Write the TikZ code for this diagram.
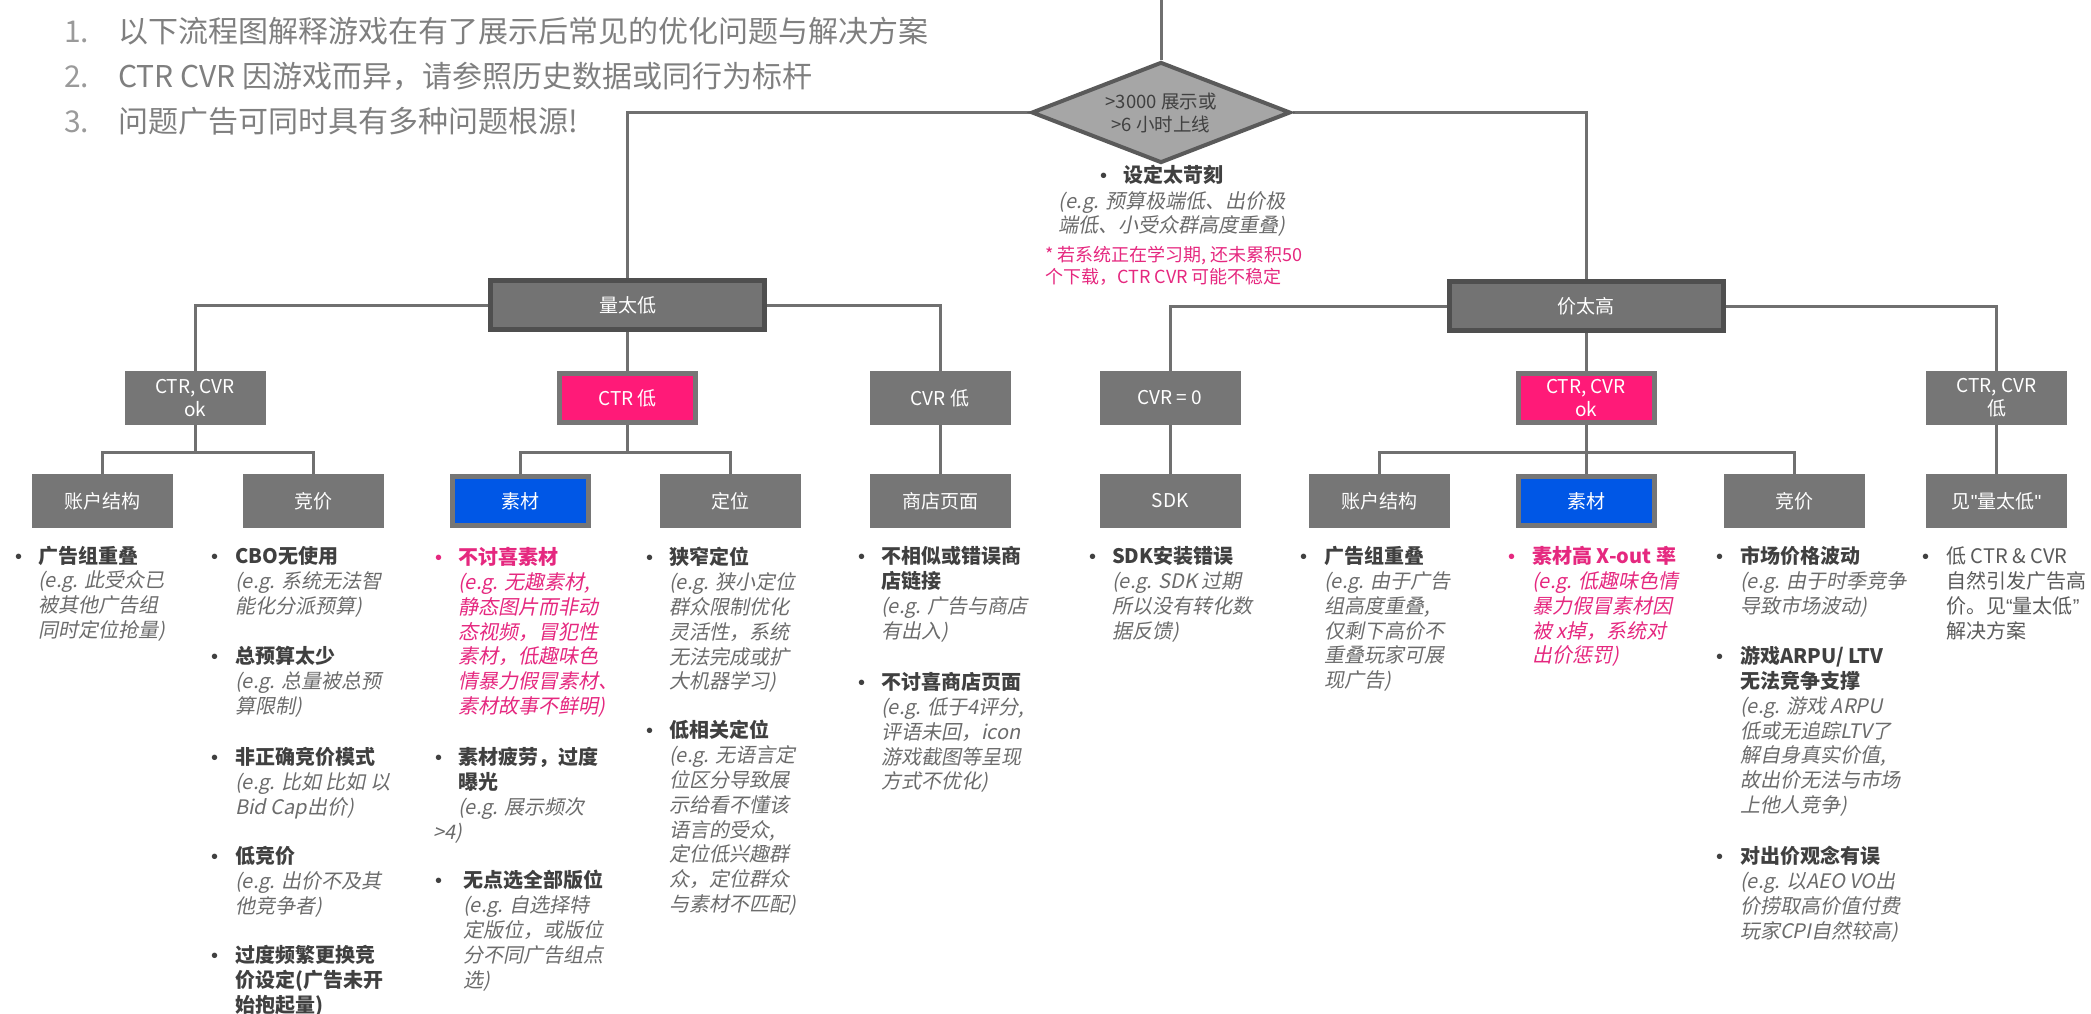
\documentclass[tikz,border=0pt]{standalone}
\usepackage{fontspec}
\setmainfont{Noto Sans CJK SC}
\newfontfamily\itf[FakeSlant=0.2]{Noto Sans CJK SC}
\newfontfamily\latf{Liberation Sans}
\usetikzlibrary{shapes.geometric,backgrounds}
\definecolor{boxg}{HTML}{767676}
\definecolor{topfill}{HTML}{737373}
\definecolor{topedge}{HTML}{4F4F4F}
\definecolor{linec}{HTML}{707070}
\definecolor{pinkbox}{HTML}{FF1A78}
\definecolor{bluebox}{HTML}{0057E6}
\definecolor{diafill}{HTML}{A6A6A6}
\definecolor{diaedge}{HTML}{5A5A5A}
\definecolor{ttlc}{HTML}{404040}
\definecolor{exc}{HTML}{6B6B6B}
\definecolor{pinkc}{HTML}{E5287F}
\definecolor{headc}{HTML}{7F7F7F}
\definecolor{headn}{HTML}{9A9A9A}
\definecolor{jc}{HTML}{5A5A5A}
\newcommand{\ttlB}[1]{{\bfseries\color{ttlc}#1}}
\newcommand{\exT}[1]{{\itf\color{exc}#1}}
\newcommand{\pkB}[1]{{\bfseries\color{pinkc}#1}}
\newcommand{\pkE}[1]{{\itf\color{pinkc}#1}}
\newcommand{\bulI}[1]{\makebox[#1][l]{\latf\color{ttlc}\textbullet}}
\newcommand{\bulJ}[1]{\makebox[#1][l]{\latf\color{pinkc}\textbullet}}
\newcommand{\indT}[1]{\hspace*{#1}}
\begin{document}
\begin{tikzpicture}[x=1pt,y=-1pt,
  conn/.style={draw=linec, line width=3pt},
  topbox/.style={rectangle, fill=topfill, draw=topedge, line width=5pt, minimum width=274pt, minimum height=49pt, inner sep=0pt, text=white, font=\fontsize{19}{23}\selectfont},
  gbox/.style={rectangle, fill=boxg, minimum width=141pt, minimum height=54pt, inner sep=0pt, text=white, align=center, font=\fontsize{19}{23}\selectfont},
  pbox/.style={gbox, fill=pinkbox, draw=boxg, line width=5pt, minimum width=136pt, minimum height=49pt},
  bbox/.style={pbox, fill=bluebox},
  itemnode/.style={anchor=north west, inner sep=0pt, font=\fontsize{20}{24.8}\selectfont},
  headnum/.style={anchor=base west, inner sep=0pt, text=headn, font=\fontsize{30}{36}\selectfont},
  headtxt/.style={anchor=base west, inner sep=0pt, text=headc, font=\fontsize{30}{36}\selectfont}]
\useasboundingbox (0,0) rectangle (2091,1014);

% header
\node[headnum] (h1n) at (64,42.5) {1.};
\node[headtxt] (h1) at (118,42.5) {以下流程图解释游戏在有了展示后常见的优化问题与解决方案};
\node[headnum] (h2n) at (64,87.5) {2.};
\node[headtxt] (h2) at (118,87.5) {CTR CVR 因游戏而异，请参照历史数据或同行为标杆};
\node[headnum] (h3n) at (64,132.5) {3.};
\node[headtxt] (h3) at (118,132.5) {问题广告可同时具有多种问题根源!};

% diamond
\node[diamond, aspect=2.5, fill=diafill, draw=diaedge, line width=4pt, minimum width=259pt, minimum height=101pt, inner sep=0pt, align=center, text=ttlc, font=\fontsize{18.5}{23}\selectfont] (dia) at (1161,112.5) {>3000 展示或\\>6 小时上线};

% center notes
\node[itemnode] (k1) at (1100,165.2) {\begin{tabular}{@{}l@{}}\bulI{23pt}\ttlB{设定太苛刻}\end{tabular}};
\node[anchor=north, inner sep=0pt, align=center, font=\fontsize{20}{24}\selectfont] (k2) at (1172,191) {\exT{(e.g. 预算极端低、出价极}\\\exT{端低、小受众群高度重叠)}};
\node[anchor=north west, inner sep=0pt, align=left, text=pinkc, font=\fontsize{18}{22}\selectfont] (note) at (1045,246) {* 若系统正在学习期, 还未累积50\\个下载，CTR CVR 可能不稳定};

% level 1
\node[topbox] (l1) at (627.5,305) {量太低};
\node[topbox] (r1) at (1586,306) {价太高};

% level 2
\node[gbox] (ok1) at (195,398) {CTR, CVR\\ok};
\node[pbox] (ctr1) at (627.5,398) {CTR 低};
\node[gbox] (cvr1) at (940,398) {CVR 低};
\node[gbox] (cvr0) at (1170,398) {CVR = 0};
\node[pbox] (ok2) at (1586,398) {CTR, CVR\\ok};
\node[gbox] (lo2) at (1996.5,398) {CTR, CVR\\低};

% level 3
\node[gbox] (acc1) at (102,501) {账户结构};
\node[gbox] (bid1) at (313,501) {竞价};
\node[bbox] (mat1) at (520.5,501) {素材};
\node[gbox] (tgt1) at (730,501) {定位};
\node[gbox] (store) at (940,501) {商店页面};
\node[gbox] (sdk) at (1170,501) {SDK};
\node[gbox] (acc2) at (1379.5,501) {账户结构};
\node[bbox] (mat2) at (1586,501) {素材};
\node[gbox] (bid2) at (1794,501) {竞价};
\node[gbox] (see) at (1996.5,501) {见{\latf"}量太低{\latf"}};

% connectors
\begin{scope}[on background layer]
\coordinate (topend) at (1161,0);
\draw[conn] (topend) -- (dia.north);
\draw[conn] (dia.west) -| (l1.north);
\draw[conn] (dia.east) -| (r1.north);
\draw[conn] (l1.west) -| (ok1.north);
\draw[conn] (l1.east) -| (cvr1.north);
\draw[conn] (l1.south) -- (ctr1.north);
\draw[conn] (r1.west) -| (cvr0.north);
\draw[conn] (r1.east) -| (lo2.north);
\draw[conn] (r1.south) -- (ok2.north);
\draw[conn] (ok1.south) -- ++(0,27) -| (acc1.north);
\draw[conn] (ok1.south) -- ++(0,27) -| (bid1.north);
\draw[conn] (ctr1.south) -- ++(0,27) -| (mat1.north);
\draw[conn] (ctr1.south) -- ++(0,27) -| (tgt1.north);
\draw[conn] (cvr1.south) -- (store.north);
\draw[conn] (cvr0.south) -- (sdk.north);
\draw[conn] (ok2.south) -- ++(0,27) -| (acc2.north);
\draw[conn] (ok2.south) -- ++(0,27) -| (bid2.north);
\draw[conn] (ok2.south) -- (mat2.north);
\draw[conn] (lo2.south) -- (see.north);
\end{scope}

% column 1
\node[itemnode] (a1) at (15,545.5) {\begin{tabular}{@{}l@{}}
\bulI{23pt}\ttlB{广告组重叠}\\ \indT{23pt}\exT{(e.g. 此受众已}\\ \indT{23pt}\exT{被其他广告组}\\ \indT{23pt}\exT{同时定位抢量)}\end{tabular}};

% column 2
\node[itemnode] (b1) at (211,546.2) {\begin{tabular}{@{}l@{}}
\bulI{24pt}\ttlB{CBO无使用}\\ \indT{24pt}\exT{(e.g. 系统无法智}\\ \indT{24pt}\exT{能化分派预算)}\end{tabular}};
\node[itemnode] (b2) at (211,646.2) {\begin{tabular}{@{}l@{}}
\bulI{24pt}\ttlB{总预算太少}\\ \indT{24pt}\exT{(e.g. 总量被总预}\\ \indT{24pt}\exT{算限制)}\end{tabular}};
\node[itemnode] (b3) at (211,747) {\begin{tabular}{@{}l@{}}
\bulI{24pt}\ttlB{非正确竞价模式}\\ \indT{24pt}\exT{(e.g. 比如 比如 以}\\ \indT{24pt}\exT{Bid Cap出价)}\end{tabular}};
\node[itemnode] (b4) at (211,846.2) {\begin{tabular}{@{}l@{}}
\bulI{24pt}\ttlB{低竞价}\\ \indT{24pt}\exT{(e.g. 出价不及其}\\ \indT{24pt}\exT{他竞争者)}\end{tabular}};
\node[itemnode] (b5) at (211,945.2) {\begin{tabular}{@{}l@{}}
\bulI{24pt}\ttlB{过度频繁更换竞}\\ \indT{24pt}\ttlB{价设定(广告未开}\\ \indT{24pt}\ttlB{始抱起量)}\end{tabular}};

% column 3
\node[itemnode] (c1) at (435,547.2) {\begin{tabular}{@{}l@{}}
\bulJ{23pt}\pkB{不讨喜素材}\\ \indT{23pt}\pkE{(e.g. 无趣素材,}\\ \indT{23pt}\pkE{静态图片而非动}\\ \indT{23pt}\pkE{态视频，冒犯性}\\ \indT{23pt}\pkE{素材，低趣味色}\\ \indT{23pt}\pkE{情暴力假冒素材、}\\ \indT{23pt}\pkE{素材故事不鲜明)}\end{tabular}};
\node[itemnode] (c2) at (435,747.2) {\begin{tabular}{@{}l@{}}
\bulI{23pt}\ttlB{素材疲劳，过度}\\ \indT{23pt}\ttlB{曝光}\\ \indT{23pt}\exT{(e.g. 展示频次}\\ \indT{-2pt}\exT{>4)}\end{tabular}};
\node[itemnode] (c3) at (435,870.2) {\begin{tabular}{@{}l@{}}
\bulI{28pt}\ttlB{无点选全部版位}\\ \indT{28pt}\exT{(e.g. 自选择特}\\ \indT{28pt}\exT{定版位，或版位}\\ \indT{28pt}\exT{分不同广告组点}\\ \indT{28pt}\exT{选)}\end{tabular}};

% column 4
\node[itemnode] (d1) at (646,547.2) {\begin{tabular}{@{}l@{}}
\bulI{23pt}\ttlB{狭窄定位}\\ \indT{23pt}\exT{(e.g. 狭小定位}\\ \indT{23pt}\exT{群众限制优化}\\ \indT{23pt}\exT{灵活性，系统}\\ \indT{23pt}\exT{无法完成或扩}\\ \indT{23pt}\exT{大机器学习)}\end{tabular}};
\node[itemnode] (d2) at (646,720.2) {\begin{tabular}{@{}l@{}}
\bulI{23pt}\ttlB{低相关定位}\\ \indT{23pt}\exT{(e.g. 无语言定}\\ \indT{23pt}\exT{位区分导致展}\\ \indT{23pt}\exT{示给看不懂该}\\ \indT{23pt}\exT{语言的受众,}\\ \indT{23pt}\exT{定位低兴趣群}\\ \indT{23pt}\exT{众，定位群众}\\ \indT{23pt}\exT{与素材不匹配)}\end{tabular}};

% column 5
\node[itemnode] (e1) at (858,546.2) {\begin{tabular}{@{}l@{}}
\bulI{23pt}\ttlB{不相似或错误商}\\ \indT{23pt}\ttlB{店链接}\\ \indT{23pt}\exT{(e.g. 广告与商店}\\ \indT{23pt}\exT{有出入)}\end{tabular}};
\node[itemnode] (e2) at (858,672.2) {\begin{tabular}{@{}l@{}}
\bulI{23pt}\ttlB{不讨喜商店页面}\\ \indT{23pt}\exT{(e.g. 低于4评分,}\\ \indT{23pt}\exT{评语未回，icon}\\ \indT{23pt}\exT{游戏截图等呈现}\\ \indT{23pt}\exT{方式不优化)}\end{tabular}};

% column 6
\node[itemnode] (f1) at (1089,546.2) {\begin{tabular}{@{}l@{}}
\bulI{23pt}\ttlB{SDK安装错误}\\ \indT{23pt}\exT{(e.g. SDK 过期}\\ \indT{23pt}\exT{所以没有转化数}\\ \indT{23pt}\exT{据反馈)}\end{tabular}};

% column 7
\node[itemnode] (g1) at (1300,546.2) {\begin{tabular}{@{}l@{}}
\bulI{24pt}\ttlB{广告组重叠}\\ \indT{24pt}\exT{(e.g. 由于广告}\\ \indT{24pt}\exT{组高度重叠,}\\ \indT{24pt}\exT{仅剩下高价不}\\ \indT{24pt}\exT{重叠玩家可展}\\ \indT{24pt}\exT{现广告)}\end{tabular}};

% column 8
\node[itemnode] (h1i) at (1508,546.2) {\begin{tabular}{@{}l@{}}
\bulJ{24pt}\pkB{素材高 X-out 率}\\ \indT{24pt}\pkE{(e.g. 低趣味色情}\\ \indT{24pt}\pkE{暴力假冒素材因}\\ \indT{24pt}\pkE{被 x掉，系统对}\\ \indT{24pt}\pkE{出价惩罚)}\end{tabular}};

% column 9
\node[itemnode] (i1) at (1716,546.2) {\begin{tabular}{@{}l@{}}
\bulI{24pt}\ttlB{市场价格波动}\\ \indT{24pt}\exT{(e.g. 由于时季竞争}\\ \indT{24pt}\exT{导致市场波动)}\end{tabular}};
\node[itemnode] (i2) at (1716,646.2) {\begin{tabular}{@{}l@{}}
\bulI{24pt}\ttlB{游戏ARPU/ LTV}\\ \indT{24pt}\ttlB{无法竞争支撑}\\ \indT{24pt}\exT{(e.g. 游戏 ARPU}\\ \indT{24pt}\exT{低或无追踪LTV了}\\ \indT{24pt}\exT{解自身真实价值,}\\ \indT{24pt}\exT{故出价无法与市场}\\ \indT{24pt}\exT{上他人竞争)}\end{tabular}};
\node[itemnode] (i3) at (1716,846.2) {\begin{tabular}{@{}l@{}}
\bulI{24pt}\ttlB{对出价观念有误}\\ \indT{24pt}\exT{(e.g. 以AEO VO出}\\ \indT{24pt}\exT{价捞取高价值付费}\\ \indT{24pt}\exT{玩家CPI自然较高)}\end{tabular}};

% column 10
\node[itemnode] (j1) at (1922,546.2) {\begin{tabular}{@{}l@{}}
\bulI{24pt}{\color{jc}低 CTR \& CVR}\\ \indT{24pt}{\color{jc}自然引发广告高}\\ \indT{24pt}{\color{jc}价。见{\latf“}量太低{\latf”}}\\ \indT{24pt}{\color{jc}解决方案}\end{tabular}};
\end{tikzpicture}
\end{document}
